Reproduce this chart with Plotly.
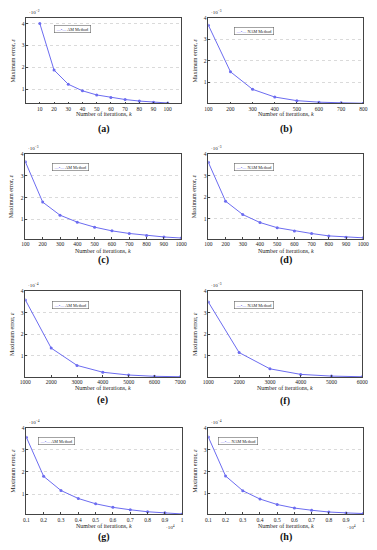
import plotly.graph_objects as go

W, H = 377, 550

# ---------------- data (errors shown in units of the panel multiplier) ----------------
a_k = [10, 20, 30, 40, 50, 60, 70, 80, 90, 100]
a_err = [4.00, 1.87, 1.22, 0.92, 0.73, 0.61, 0.52, 0.45, 0.40, 0.36]

b_k = [100, 200, 300, 400, 500, 600, 700, 800]
b_err = [3.66, 1.48, 0.66, 0.30, 0.13, 0.06, 0.03, 0.01]

c_k = [100, 200, 300, 400, 500, 600, 700, 800, 900, 1000]
c_err = [3.65, 1.80, 1.20, 0.88, 0.65, 0.48, 0.36, 0.27, 0.20, 0.15]

d_k = [100, 200, 300, 400, 500, 600, 700, 800, 900, 1000]
d_err = [3.62, 1.82, 1.20, 0.83, 0.59, 0.44, 0.32, 0.21, 0.15, 0.12]

e_k = [1000, 2000, 3000, 4000, 5000, 6000, 7000]
e_err = [3.60, 1.35, 0.54, 0.22, 0.09, 0.03, 0.01]

f_k = [1000, 2000, 3000, 4000, 5000, 6000]
f_err = [3.50, 1.14, 0.38, 0.12, 0.04, 0.01]

g_k = [0.1, 0.2, 0.3, 0.4, 0.5, 0.6, 0.7, 0.8, 0.9, 1.0]
g_err = [3.57, 1.80, 1.16, 0.80, 0.56, 0.40, 0.29, 0.20, 0.15, 0.10]

h_k = [0.1, 0.2, 0.3, 0.4, 0.5, 0.6, 0.7, 0.8, 0.9, 1.0]
h_err = [3.57, 1.80, 1.13, 0.75, 0.50, 0.34, 0.24, 0.16, 0.12, 0.09]

g_ticktext = ["0.1", "0.2", "0.3", "0.4", "0.5", "0.6", "0.7", "0.8", "0.9", "1"]
y_ticks = [1, 2, 3, 4]

panel_labels = ["(a)", "(b)", "(c)", "(d)", "(e)", "(f)", "(g)", "(h)"]
legend_names = ["AM Method", "NAM Method"] * 4
y_exponents = ["−2", "−3", "−3", "−3", "−4", "−3", "−4", "−4"]

panels = [
    dict(k=a_k, err=a_err, xr=[0.5, 109.5], yr=[0.34, 4.26], box=(21, 181, 15, 101), leg=(50, 26), tit=112, lab=127),
    dict(k=b_k, err=b_err, xr=[100, 800], yr=[0, 4], box=(209, 369, 15, 101), leg=(236, 28), tit=112, lab=127),
    dict(k=c_k, err=c_err, xr=[100, 1000], yr=[0.12, 4], box=(20, 181, 152, 237), leg=(48, 165), tit=249, lab=258),
    dict(k=d_k, err=d_err, xr=[100, 1000], yr=[0.08, 4], box=(209, 369, 152, 237), leg=(235, 165), tit=249, lab=258),
    dict(k=e_k, err=e_err, xr=[1000, 7000], yr=[0, 4], box=(20, 180, 290, 376), leg=(48, 304), tit=387, lab=399),
    dict(k=f_k, err=f_err, xr=[1000, 6000], yr=[0, 4], box=(209, 368, 290, 376), leg=(235, 304), tit=387, lab=400),
    dict(k=g_k, err=g_err, xr=[0.1, 1.0], yr=[0.09, 4], box=(21, 182, 427, 514), leg=(33, 440), tit=526, lab=537),
    dict(k=h_k, err=h_err, xr=[0.1, 1.0], yr=[0.06, 4], box=(209, 369, 427, 514), leg=(219, 440), tit=526, lab=537),
]

LINE = "#6c6cf0"
AXC = "#444444"
TXT = "#222222"
FONT = "Liberation Serif"


def px(x):
    return x / W


def py(y):
    return 1 - y / H


fig = go.Figure()
layout = dict(
    width=W, height=H, margin=dict(l=0, r=0, t=0, b=0),
    paper_bgcolor="white", plot_bgcolor="white", showlegend=False,
    font=dict(family=FONT, size=6, color=TXT),
)
annotations = []

for i, p in enumerate(panels):
    n = i + 1
    xa = "x" if n == 1 else f"x{n}"
    ya = "y" if n == 1 else f"y{n}"
    x0, x1, y0, y1 = p["box"]
    fig.add_trace(go.Scatter(
        x=p["k"], y=p["err"], xaxis=xa, yaxis=ya, mode="lines+markers",
        name=legend_names[i],
        line=dict(color=LINE, width=1),
        marker=dict(color=LINE, size=3, symbol="circle"),
    ))
    is_scaled = p["k"] is g_k or p["k"] is h_k
    tickvals = p["k"]
    ticktext = g_ticktext if is_scaled else [str(v) for v in p["k"]]
    layout["xaxis" if n == 1 else f"xaxis{n}"] = dict(
        domain=[px(x0), px(x1)], anchor=ya, range=p["xr"],
        tickvals=tickvals, ticktext=ticktext, ticks="inside", ticklen=2,
        tickcolor=AXC, showline=True, linecolor=AXC, linewidth=0.7, mirror=True,
        showgrid=False, zeroline=False, tickfont=dict(size=5.5, family=FONT, color=TXT),
    )
    layout["yaxis" if n == 1 else f"yaxis{n}"] = dict(
        domain=[py(y1), py(y0)], anchor=xa, range=p["yr"],
        tickvals=y_ticks, ticks="inside", ticklen=2, tickcolor=AXC,
        showline=True, linecolor=AXC, linewidth=0.7, mirror=True,
        showgrid=True, gridcolor="#dadada", griddash="dot", gridwidth=0.6,
        zeroline=False, tickfont=dict(size=5.5, family=FONT, color=TXT),
    )
    cx = (x0 + x1) / 2
    cy = (y0 + y1) / 2
    # x title
    annotations.append(dict(
        text="Number of iterations, <i>k</i>", x=px(cx), y=py(p["tit"]),
        xref="paper", yref="paper", showarrow=False, xanchor="center", yanchor="middle",
        font=dict(size=6, family=FONT, color=TXT)))
    # y title
    annotations.append(dict(
        text="Maximum error, <i>ε</i>", x=px(x0 - 14), y=py(cy),
        xref="paper", yref="paper", showarrow=False, textangle=-90,
        xanchor="center", yanchor="middle",
        font=dict(size=6, family=FONT, color=TXT)))
    # y multiplier
    annotations.append(dict(
        text=f"·10<sup>{y_exponents[i]}</sup>", x=px(x0 + 1), y=py(y0 - 1),
        xref="paper", yref="paper", showarrow=False, xanchor="left", yanchor="bottom",
        font=dict(size=5, family=FONT, color=TXT)))
    # panel label
    annotations.append(dict(
        text=f"<b>{panel_labels[i]}</b>", x=px(cx), y=py(p["lab"]),
        xref="paper", yref="paper", showarrow=False, xanchor="center", yanchor="middle",
        font=dict(size=10, family=FONT, color="#111111")))
    # legend box
    lx, ly = p["leg"]
    annotations.append(dict(
        text=f"<span style='color:{LINE}'>—•—</span> {legend_names[i]}",
        x=px(lx), y=py(ly), xref="paper", yref="paper", showarrow=False,
        xanchor="left", yanchor="middle", bordercolor="#666666", borderwidth=0.6,
        borderpad=1, bgcolor="white",
        font=dict(size=4.2, family=FONT, color=TXT)))
    # x multiplier for (g) and (h)
    if is_scaled:
        annotations.append(dict(
            text="·10<sup>4</sup>", x=px(x1 - 12), y=py(p["tit"] + 1),
            xref="paper", yref="paper", showarrow=False, xanchor="center", yanchor="middle",
            font=dict(size=5, family=FONT, color=TXT)))

layout["annotations"] = annotations
fig.update_layout(**layout)
fig.write_html(
    "out.html",
    config={"displayModeBar": False},
    post_script="document.body.style.margin='0';document.body.style.overflow='hidden';",
)
